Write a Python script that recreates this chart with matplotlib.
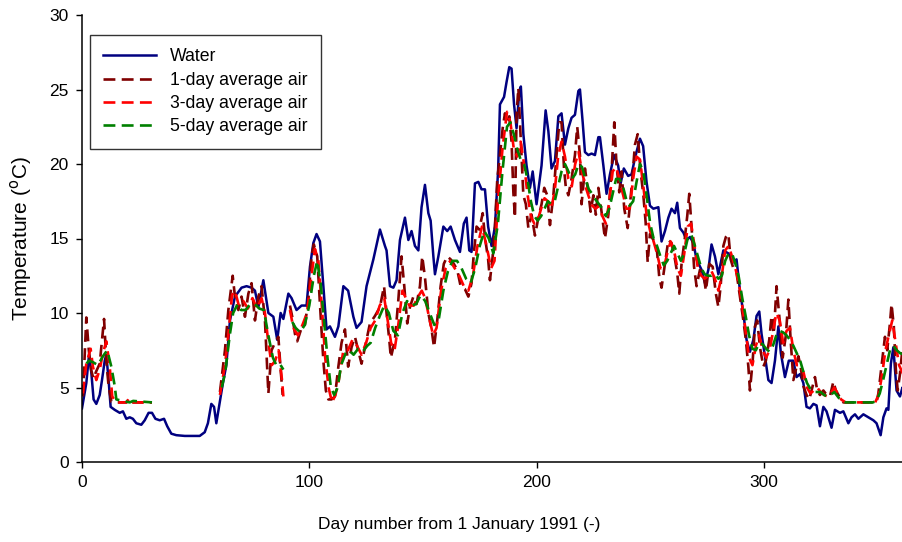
import numpy as np
import matplotlib
matplotlib.use("Agg")
import matplotlib.pyplot as plt

plt.rcParams['font.family'] = ['Liberation Sans', 'DejaVu Sans']

nan = np.nan

# Water temperature (day, degC)
water_day = [0, 1.9, 3.1, 4.1, 5.1, 6.3, 7.8, 8.8, 10, 10.7, 11.7, 12.6, 14.4, 16.6, 18, 19.5, 21, 22.4,
             23.9, 26.1, 27.6, 29.3, 30.8, 32.3, 34.2, 36.1, 37.5, 39.3, 41.5, 45.2, 49.6, 51.8, 54,
             55.4, 56.9, 58.1, 59.1, 60.6, 62, 63.5, 65.1, 67.3, 70.2, 72.4, 74.6, 76.1, 77.6, 79.8,
             82, 84.2, 85.9, 87.4, 88.6, 90.8, 92.2, 94.4, 96.6, 98.8, 100.3, 101.8, 103.2, 104.7,
             106.2, 107.6, 109.1, 111.3, 112.8, 115, 117.1, 119.4, 120.8, 123, 125.2, 128.2, 131.1,
             133.3, 134, 135.5, 137, 138.4, 139.9, 142.1, 143.6, 145, 146.5, 148, 149.4, 150.9, 152.4,
             153.4, 154.6, 155.3, 156.8, 159, 160.7, 162.2, 164.1, 166.3, 168, 169.2, 170.4, 171.4,
             172.9, 174.4, 175.8, 177.3, 178.7, 180.2, 181.7, 183.1, 183.9, 185.7, 186.8, 188, 189,
             190.1, 191.2, 192.4, 193.1, 194.2, 195.6, 197.1, 198.3, 200, 202.2, 204, 205.2, 206.6,
             208.1, 209.6, 211, 212.5, 214, 215.4, 216.9, 218.4, 219.1, 220.3, 221.3, 222.8, 224.2,
             225.7, 227.2, 227.9, 229.4, 230.8, 232.3, 234.1, 235.9, 237, 238.4, 240.3, 241.8, 243.3,
             245.5, 246.9, 248.4, 249.9, 251.4, 253.6, 255, 256.5, 258, 259.4, 260.9, 261.9, 263.1,
             264.6, 266, 267.5, 269, 270.4, 272.6, 274.1, 275.6, 277, 278.5, 280, 282.2, 284.4, 286.6,
             288, 289.5, 291, 292.4, 293.9, 295.4, 296.8, 298, 299, 300.5, 302, 303.4, 304.9, 306.4,
             307.5, 309.3, 311, 313, 314.4, 315.9, 317.4, 318.8, 320.3, 321.8, 323.2, 324.7, 326.2,
             327.6, 329.8, 331.3, 333.5, 335, 337.2, 338.6, 340.1, 341.6, 343.8, 346, 348.2, 349.6,
             351.4, 352.6, 354, 354.8, 355.9, 357, 358.4, 359.9, 361, 362]
water_temp = [3.6, 5.3, 7.2, 6.0, 4.2, 3.9, 4.5, 5.5, 6.8, 7.2, 5.5, 3.7, 3.5, 3.3, 3.4, 2.9, 3.0, 2.9,
              2.6, 2.5, 2.8, 3.3, 3.3, 2.9, 2.8, 2.9, 2.4, 1.9, 1.8, 1.75, 1.75, 1.75, 2.0,
              2.6, 3.9, 3.7, 2.6, 4.0, 5.3, 6.5, 9.5, 11.1, 11.7, 11.8, 11.7, 11.5, 10.4, 12.2,
              10.0, 9.75, 8.2, 10.0, 9.6, 11.3, 11.0, 10.2, 10.5, 10.5, 13.1, 14.7, 15.3, 14.8,
              11.8, 8.9, 9.1, 8.4, 9.1, 11.8, 11.5, 9.75, 9.0, 9.4, 11.8, 13.6, 15.6,
              14.5, 14.2, 11.8, 11.7, 12.2, 14.9, 16.4, 14.9, 15.5, 14.5, 14.2, 17.1, 18.6, 16.7,
              16.2, 13.8, 12.6, 13.8, 15.8, 15.5, 15.8, 14.9, 14.1, 16.0, 16.4, 14.2, 14.1,
              18.7, 18.8, 18.3, 18.3, 15.8, 14.5, 15.8, 19.6, 24.0, 24.5, 25.5, 26.5, 26.4,
              24.0, 22.4, 24.9, 25.2, 22.0, 19.9, 18.4, 19.5, 17.3, 19.9, 23.6, 22.2, 19.7,
              20.2, 23.2, 23.4, 21.3, 22.4, 23.1, 23.3, 24.9, 25.0, 22.8, 20.8, 20.6, 20.7,
              20.6, 21.8, 21.8, 19.9, 18.0, 19.3, 20.6, 19.9, 18.7, 19.7, 19.2, 19.3, 20.4,
              21.7, 21.2, 18.8, 17.2, 17.0, 17.1, 14.8, 15.5, 16.4, 17.0, 16.7, 17.4, 15.7,
              15.4, 14.9, 15.1, 14.7, 13.6, 12.9, 12.0, 12.9, 14.6, 13.8, 12.6, 14.2, 14.0, 13.4,
              13.6, 11.5, 10.0, 8.2, 7.4, 8.2, 9.8, 10.1, 8.6, 7.1, 5.5, 5.3, 6.8, 9.1,
              7.3, 5.7, 6.8, 6.8, 5.7, 5.9, 5.3, 3.7, 3.6, 3.9, 3.8, 2.4, 3.7,
              3.4, 2.3, 3.5, 3.3, 3.4, 2.6, 3.0, 3.2, 2.9, 3.2, 3.0, 2.8, 2.6,
              1.8, 3.0, 3.6, 3.5, 6.6, 7.7, 4.8, 4.4, 5.0, 4.2]

# 1-day average air temperature (nan = missing)
air1_day = [0.4, 1.9, 3.0, 4.0, 5.0, 6.3, 7.8, 8.8, 9.7, 10.7, 11.7, 12.9, 15, 19.5, 21, 22.5, 30.8, 45,
            60.7, 62.9, 64.4, 66.3, 67.3, 68.8, 70.2, 71.7, 73.2, 74.6, 76.1, 77.6, 79, 80.5, 82, 83.4,
            84.9, 86.4, 87.4, 88.3, 90, 91.5, 92.7, 93.7, 94.7, 96.6, 98.1, 99.6, 101, 102, 103.5,
            104.7, 106.2, 107.3, 108.4, 109.8, 111.3, 112.8, 114.2, 115.7, 117.1, 118.6, 120.1, 121.5,
            123, 124.5, 126.7, 128.9, 131.1, 132.9, 134, 135.2, 135.9, 137.7, 139.2, 140.6, 141.8,
            143.1, 144.3, 145.8, 147.2, 148.7, 149.7, 150.9, 152.4, 153.8, 154.9, 156.3, 157.8, 159.2,
            160.7, 162.2, 163.6, 165.1, 166.6, 168.5, 170, 171.4, 172.4, 173.6, 174.8, 176.3, 177.3,
            178.7, 179.5, 180.7, 181.7, 182.7, 183.9, 185.1, 186.1, 187.1, 188, 189, 189.8, 190.5,
            191.2, 192, 192.7, 193.4, 194.2, 195.3, 196.4, 197.8, 199.3, 200.8, 202.2, 203.4, 204.7,
            205.9, 207.4, 208.8, 210, 211, 212.1, 212.9, 214, 215.4, 216.9, 217.9, 219.1, 219.8,
            221.3, 222.5, 223.8, 225, 226.1, 227.2, 228.6, 230.1, 231.6, 233, 234.2, 235.2, 236.4,
            237.4, 238.6, 240.1, 241.8, 243.3, 244.5, 245.8, 247, 248, 248.9, 249.9, 251.4, 252.8,
            254, 255, 256.5, 258, 259.4, 260.9, 261.9, 262.8, 263.8, 265.3, 266.3, 267.2, 268.2,
            269.3, 270.4, 271.9, 273.4, 274.5, 276, 277.5, 278.9, 280, 281, 282.2, 283.3, 284.4,
            285.4, 286.8, 288, 289.5, 291, 292.1, 293.2, 293.9, 295.1, 296.1, 297.1, 298.3, 299.8,
            300.9, 302.4, 303.4, 304.4, 305.6, 306.8, 308.3, 309.7, 310.8, 311.8, 313, 314.1, 315.2,
            316.2, 317.4, 318.8, 320, 321, 322.5, 323.5, 324.7, 326.2, 327.2, 329.1, 330.6, 331.7,
            333.2, 335, 349.6, 350.4, 351.1, 352.3, 353.3, 354.3, 355.5, 356.2, 357.2, 358.1, 358.9,
            359.9, 360.8, 362]
air1_temp = [4.4, 9.7, 7.5, 6.2, 5.6, 6.1, 6.6, 8.2, 9.6, 6.8, 5.1, 4.05, 4.0, 4.0, 4.3, 4.0, 4.0, nan,
             4.7, 7.5, 10.2, 12.5, 11.1, 10.2, 11.1, 9.75, 11.3, 12.0, 9.5, 11.1, 11.8, 9.5, 4.6, 7.5,
             8.0, 8.4, 6.2, 4.5, nan, 10.5, 9.6, 8.6, 8.1, 9.0, 9.2, 10.9, 13.8, 14.6, 13.8,
             10.6, 6.8, 4.8, 4.2, 4.2, 4.4, 6.4, 8.0, 8.9, 6.4, 7.7, 8.4, 7.5,
             6.6, 7.7, 9.3, 9.8, 10.4, 11.8, 10.0, 8.2, 7.0, 8.2, 10.9, 13.8, 11.8,
             9.3, 10.4, 11.1, 10.6, 11.8, 13.8, 12.4, 10.0, 8.9, 7.7, 9.5, 11.8, 13.3,
             13.8, 13.6, 13.3, 12.9, 11.8, 11.6, 11.1, 12.0, 14.0, 15.8, 15.6, 16.7, 15.1,
             13.6, 12.2, 13.8, 15.8, 18.9, 20.6, 22.4, 23.4, 22.8, 23.2, 21.5, 18.1, 16.4,
             23.3, 25.1, 22.8, 20.6, 17.9, 17.3, 15.7, 16.6, 15.2, 16.4, 17.3, 18.4, 17.9,
             15.9, 17.9, 20.6, 22.8, 22.8, 19.7, 18.4, 17.9, 19.0, 20.6, 22.5, 20.6, 17.3,
             19.7, 18.4, 16.8, 17.9, 16.6, 18.4, 16.8, 15.0, 16.6, 19.5, 22.8, 19.9, 18.1,
             19.5, 17.0, 15.7, 18.4, 21.3, 22.0, 19.5, 17.9, 16.1, 13.4, 15.3, 14.9, 14.5,
             12.4, 11.7, 13.3, 14.9, 14.7, 13.6, 12.7, 11.3, 13.3, 15.1, 16.5, 18.0, 15.8,
             13.1, 11.8, 12.9, 12.7, 11.5, 13.3, 13.1, 11.3, 10.4, 11.8, 14.5, 15.1, 15.3,
             13.6, 12.9, 12.7, 11.1, 9.5, 8.2, 6.4, 4.8, 6.8, 9.1, 9.5, 7.7, 6.4,
             6.8, 8.2, 9.8, 8.6, 11.8, 9.8, 7.0, 8.5, 10.9, 8.2, 5.5, 6.2, 7.1,
             6.4, 5.1, 4.5, 4.2, 4.8, 5.7, 4.8, 4.5, 4.8, 4.6, 4.4, 5.4, 4.8,
             4.4, 4.0, 4.0, 4.6, 5.5, 7.1, 8.4, 7.5, 9.3, 10.6, 9.1, 6.2, 4.8,
             5.9, 7.3, 6.0]

# 3-day average air temperature
air3_day = [0.4, 1.9, 3.8, 4.8, 6.3, 7.8, 9.2, 10.7, 12.2, 13.3, 15, 19.5, 21, 22.5, 30.8, 45,
            60.7, 62.9, 64.4, 66, 67.3, 69, 71, 73, 75, 77, 79, 80.5, 82, 83.5, 85, 86.5, 88, 88.6, 90,
            91.5, 93, 95, 97, 99, 101, 102.5, 104, 105.5, 107, 108.5, 110, 111.5, 113, 115, 117, 119,
            121, 123, 125, 127, 129, 131, 133, 134.5, 136, 137.5, 139, 141, 142.5, 144, 146, 147.5,
            149.5, 151, 153, 154.5, 156, 158, 160, 162, 164, 166, 168, 170, 172, 174, 176, 178, 180,
            181.5, 183, 185, 187, 188.5, 190, 191.5, 193, 194.5, 196, 197.5, 199, 200.5, 202, 203.5,
            205, 206.5, 208, 209.5, 211, 212.5, 214, 215.5, 217, 218.5, 220, 221.5, 223, 224.5, 226,
            227.5, 229, 230.5, 232, 233.5, 235, 236.5, 238, 239.5, 241, 242.5, 244, 245.5, 247, 248.5,
            250, 251.5, 253, 254.5, 256, 257.5, 259, 260.5, 262, 263.5, 265, 266.5, 268, 269.5, 271,
            272.5, 274, 275.5, 277, 278.5, 280, 281.5, 283, 284.5, 286, 287.5, 289, 290.5, 292, 293.5,
            295, 296.5, 298, 299.5, 301, 302.5, 304, 305.5, 307, 308.5, 310, 311.5, 313, 314.5, 316,
            317.5, 319, 320.5, 322, 323.5, 325, 326.5, 328, 329.5, 331, 332.5, 334, 336, 349, 350.5,
            352, 353.5, 355, 356.5, 358, 359.5, 361, 362]
air3_temp = [4.6, 6.6, 7.6, 6.4, 5.5, 6.2, 7.3, 8.1, 6.4, 4.4, 4.0, 4.0, 4.3, 4.0, 4.0, nan,
             4.5, 6.5, 8.5, 11.2, 11.5, 10.5, 10.8, 10.3, 11.0, 10.3, 11.0, 10.0, 8.0, 6.5, 6.8, 7.5, 5.5, 4.4, nan,
             10.2, 9.0, 8.5, 9.2, 10.0, 12.5, 14.3, 13.5, 10.5, 7.0, 5.0, 4.0, 4.5, 5.5, 7.5, 7.5, 8.2,
             7.8, 7.2, 8.0, 9.0, 9.5, 10.5, 11.0, 9.5, 8.0, 7.5, 9.0, 11.5, 11.0, 10.5, 10.5, 11.0,
             11.5, 11.0, 9.5, 8.5, 9.0, 11.5, 13.0, 13.5, 13.0, 12.5, 11.8, 11.5, 12.5, 14.5, 15.8, 14.5, 13.0,
             13.5, 17.5, 21.0, 23.5, 22.8, 21.0, 20.5, 21.5, 20.0, 18.0, 16.5, 16.0, 16.2, 17.0, 17.7,
             17.5, 17.0, 18.2, 20.5, 21.5, 20.5, 19.0, 18.5, 20.0, 20.8, 19.5, 18.5, 17.8, 17.2, 17.0,
             17.2, 16.5, 16.0, 17.5, 19.5, 19.8, 19.0, 18.0, 17.0, 17.0, 19.0, 20.5, 20.3, 18.5, 16.5,
             15.5, 14.8, 14.0, 13.0, 13.0, 14.0, 14.8, 14.2, 13.0, 12.5, 14.0, 15.8, 16.0, 14.5, 13.0,
             12.5, 12.3, 12.5, 12.8, 12.3, 11.5, 12.5, 14.2, 14.5, 13.8, 13.0, 12.0, 10.5, 8.8, 7.0,
             6.5, 7.8, 8.5, 7.5, 7.0, 7.5, 8.7, 10.0, 9.5, 8.0, 8.8, 9.0, 7.5, 6.5, 6.5,
             6.0, 5.0, 4.6, 4.8, 5.0, 4.7, 4.5, 4.4, 4.6, 5.0, 4.6, 4.2, 4.0, 4.0, 4.5,
             5.8, 7.5, 8.5, 9.5, 8.0, 6.5, 6.0, 5.8]

# 5-day average air temperature
air5_day = [2, 3, 4.8, 7, 9.2, 11.1, 12.9, 14.4, 15.1, 21, 22.5, 30.8, 45,
            61.5, 63, 65, 66.5, 68.5, 70, 72, 74, 76, 78, 80, 82, 84, 85.5, 87, 88.6, 90,
            92.5, 94, 96, 98, 100, 102, 103.5, 105, 106.5, 108, 109.5, 111, 112.5, 114, 116, 117.5,
            119.5, 121.5, 123.5, 125.5, 127, 129, 131, 133, 135, 137, 139, 141, 143, 145, 147, 149,
            151, 153, 155, 157, 159, 161, 163, 165, 167, 169, 171, 173, 175, 177, 179, 181, 183, 185,
            187, 188.5, 190, 191.5, 193, 194.5, 196, 197.5, 199, 200.5, 202, 203.5, 205, 206.5, 208,
            209.5, 211, 212.5, 214, 215.5, 217, 218.5, 220, 221.5, 223, 224.5, 226, 227.5, 229, 230.5,
            232, 233.5, 235, 236.5, 238, 239.5, 241, 242.5, 244, 245.5, 247, 248.5, 250, 251.5, 253,
            254.5, 256, 257.5, 259, 260.5, 262, 263.5, 265, 266.5, 268, 269.5, 271, 272.5, 274, 275.5,
            277, 278.5, 280, 281.5, 283, 284.5, 286, 287.5, 289, 290.5, 292, 293.5, 295, 296.5, 298,
            299.5, 301, 302.5, 304, 305.5, 307, 308.5, 310, 311.5, 313, 314.5, 316, 317.5, 319, 320.5,
            322, 323.5, 325, 326.5, 328, 329.5, 331, 332.5, 334, 336, 348, 349.5, 351, 352.5, 354,
            355.5, 357, 358.5, 360, 362]
air5_temp = [6.6, 6.8, 6.7, 6.5, 7.1, 7.5, 6.4, 5.1, 4.2, 4.0, 4.1, 4.0, nan,
             5.0, 6.0, 8.5, 10.0, 10.6, 10.2, 10.2, 10.6, 10.6, 10.3, 10.2, 8.5, 7.0, 6.5, 6.6, 6.2, nan,
             9.4, 9.0, 8.7, 9.2, 10.5, 12.5, 13.5, 12.0, 9.5, 7.0, 5.0, 4.5, 5.0, 6.5, 7.3, 7.5,
             7.2, 7.6, 7.4, 7.8, 8.0, 9.0, 9.8, 10.5, 10.0, 8.8, 8.5, 10.0, 10.8, 10.5, 10.6, 11.2,
             10.8, 10.0, 9.2, 9.6, 11.5, 12.8, 13.5, 13.5, 13.0, 12.3, 12.0, 13.0, 14.5, 15.5, 15.0, 14.0, 16.0, 19.5,
             22.5, 22.8, 22.0, 21.0, 20.3, 20.0, 19.0, 17.5, 16.5, 16.2, 16.5, 17.0, 17.5, 17.3, 17.5,
             18.5, 19.5, 20.0, 19.5, 19.0, 19.3, 20.0, 19.8, 19.0, 18.3, 18.0, 17.6, 17.3, 17.0, 16.5,
             17.0, 18.0, 19.0, 19.0, 18.5, 17.6, 17.2, 17.5, 18.8, 20.0, 19.5, 17.8, 16.0, 15.0, 14.5,
             13.8, 13.2, 13.5, 14.0, 14.5, 14.0, 13.5, 14.0, 15.0, 15.3, 14.6, 13.8, 13.0, 12.6, 12.5,
             12.5, 12.6, 12.3, 12.5, 13.5, 14.0, 14.0, 13.3, 12.4, 11.0, 9.8, 8.5, 7.6, 7.5, 8.0,
             7.9, 7.6, 7.4, 7.8, 8.5, 8.8, 8.7, 8.5, 8.2, 7.8, 7.3, 6.8, 6.0, 5.3, 4.9,
             4.7, 4.7, 4.7, 4.5, 4.4, 4.5, 4.7, 4.4, 4.1, 4.0, 4.0, 4.1, 4.6, 5.5, 6.5,
             7.5, 7.8, 7.5, 7.3, 7.2]

fig = plt.figure(figsize=(9.02, 5.42), dpi=100)
ax = fig.add_axes([82 / 902, 80 / 542, 820 / 902, 447 / 542])

dash = (4.5, 2.4)
ax.plot(water_day, water_temp, color='#000080', lw=1.8, label='Water')
ax.plot(air1_day, air1_temp, color='#800000', lw=1.9, dashes=dash, label='1-day average air')
ax.plot(air3_day, air3_temp, color='#ff0000', lw=1.9, dashes=dash, label='3-day average air')
ax.plot(air5_day, air5_temp, color='#008000', lw=1.9, dashes=dash, label='5-day average air')

ax.set_xlim(0, 360.8)
ax.set_ylim(0, 30)
ax.set_xticks([0, 100, 200, 300])
ax.set_yticks(np.arange(0, 31, 5))
ax.tick_params(direction='out', length=4.5, width=1, labelsize=12.5, colors='black', pad=5)
ax.spines['top'].set_visible(False)
ax.spines['right'].set_visible(False)
for s in ['left', 'bottom']:
    ax.spines[s].set_linewidth(1.1)

ax.set_xlabel('Day number from 1 January 1991 (-)', fontsize=12.5)
ax.xaxis.set_label_coords(0.46, -0.122)
ax.set_ylabel('Temperature ($^{\\mathrm{o}}$C)', fontsize=15, labelpad=11)

leg = ax.legend(loc='upper left', bbox_to_anchor=(0.0098, 0.955), borderaxespad=0,
                fontsize=12.7, frameon=True, fancybox=False, edgecolor='black',
                handlelength=3.0, handletextpad=0.8, labelspacing=0.36,
                borderpad=0.75)
leg.get_frame().set_linewidth(1.0)

plt.savefig('out.png', dpi=100)
